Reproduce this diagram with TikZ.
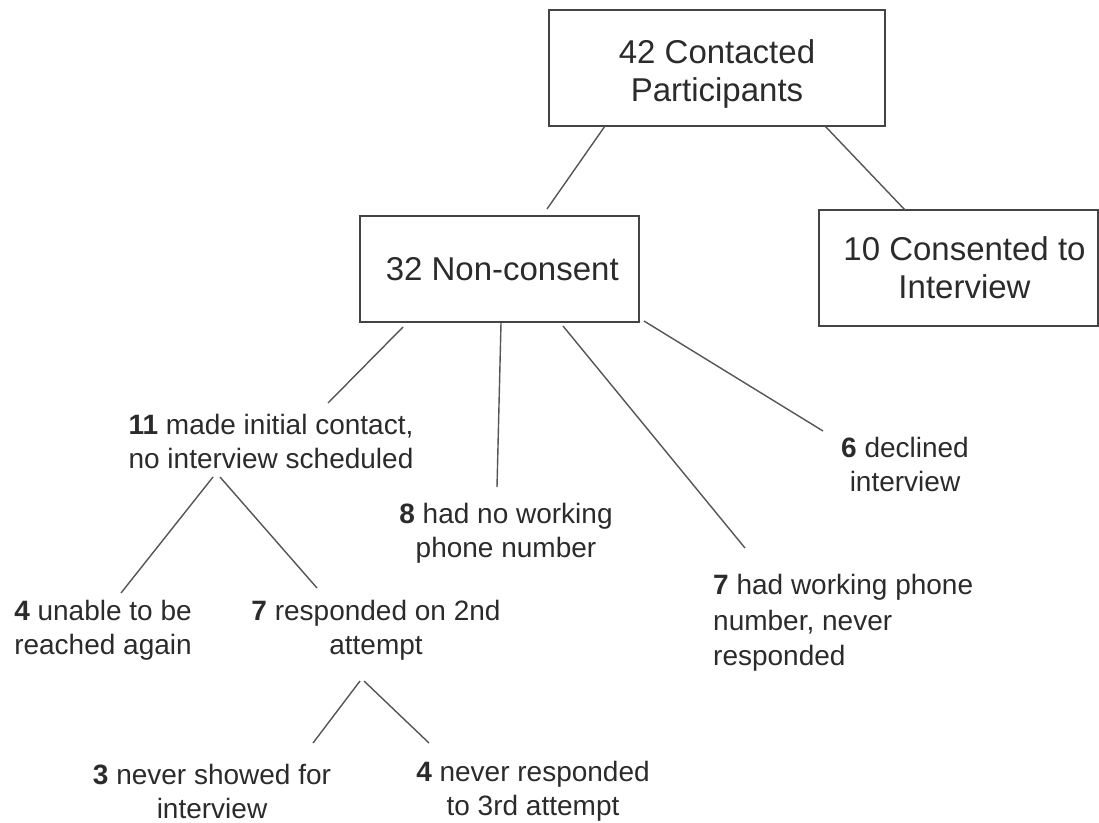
\documentclass[tikz,border=0pt]{standalone}
\usepackage{fontspec}
\setmainfont{Liberation Sans}
\definecolor{boxc}{HTML}{444444}
\definecolor{linec}{HTML}{555555}
\definecolor{txt}{HTML}{2B2B2B}
\begin{document}
\begin{tikzpicture}[x=1pt,y=-1pt,
  box/.style={draw=boxc, line width=1.6pt, inner sep=0pt, text=txt, align=center,
              font=\fontsize{33}{38}\selectfont},
  boxtext/.style={text=txt, align=center, inner sep=0pt, font=\fontsize{33}{38}\selectfont},
  link/.style={draw=linec, line width=1.4pt},
  lbl/.style={text=txt, font=\fontsize{28}{34}\selectfont, align=center, inner sep=0pt}]
\useasboundingbox (0,0) rectangle (1099,822);
% boxes
\node[box, minimum width=336pt, minimum height=116pt,
      label={[boxtext, yshift=-6pt]center:42 Contacted\\Participants}] (top) at (717,68) {};
\node[box, minimum width=279pt, minimum height=106pt] (non) at (499.5,269) {\,32 Non-consent};
\node[box, minimum width=279pt, minimum height=116pt] (cons) at (958.5,268) {\hspace{12pt}10 Consented to\\\hspace{12pt}Interview};
% labels
\node[lbl] (n11) at (271,441) {\textbf{11} made initial contact,\\no interview scheduled};
\node[lbl] (n8) at (506,533) {\textbf{8} had no working\\phone number};
\node[lbl, align=left, anchor=west, font=\fontsize{28}{35.5}\selectfont] (n7w) at (713,623) {\textbf{7} had working phone\\number, never\\responded};
\node[lbl] (n6) at (905,464) {\textbf{6} declined\\interview};
\node[lbl] (n4u) at (103,630) {\textbf{4} unable to be\\reached again};
\node[lbl] (n7r) at (376,630) {\textbf{7} responded on 2nd\\attempt};
\node[lbl] (n3) at (212,791) {\textbf{3} never showed for\\interview};
\node[lbl] (n4n) at (533,791) {\textbf{4} never responded\\to 3rd attempt};
% connector end points
\coordinate (a1) at (605,126);  \coordinate (b1) at (547,209);
\coordinate (a2) at (825,126);  \coordinate (b2) at (905,210);
\coordinate (a3) at (403,327);  \coordinate (b3) at (328,403);
\coordinate (a4) at (501,323);  \coordinate (b4) at (497,487);
\coordinate (a5) at (563,326);  \coordinate (b5) at (745,548);
\coordinate (a6) at (644,321);  \coordinate (b6) at (823,431);
\coordinate (a7) at (213,477);  \coordinate (b7) at (121,593);
\coordinate (a8) at (220,477);  \coordinate (b8) at (317,588);
\coordinate (a9) at (360,681);  \coordinate (b9) at (313,743);
\coordinate (a10) at (364,681); \coordinate (b10) at (429,743);
% connectors
\draw[link] (a1) -- (b1);
\draw[link] (a2) -- (b2);
\draw[link] (a3) -- (b3);
\draw[link] (a4) -- (b4);
\draw[link] (a5) -- (b5);
\draw[link] (a6) -- (b6);
\draw[link] (a7) -- (b7);
\draw[link] (a8) -- (b8);
\draw[link] (a9) -- (b9);
\draw[link] (a10) -- (b10);
\end{tikzpicture}
\end{document}
